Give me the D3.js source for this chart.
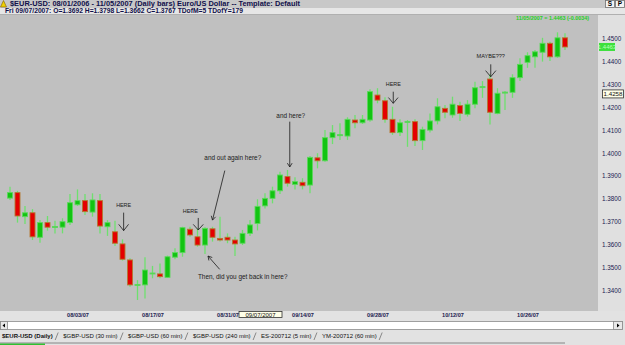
<!DOCTYPE html>
<html lang="en">
<head>
<meta charset="UTF-8" />
<title>$EUR-USD Daily bars</title>
<script src="https://d3js.org/d3.v7.min.js"></script>
<style>
  body { margin: 0; background: #e4e4e4; overflow: hidden; }
  svg { display: block; font-family: "Liberation Sans", Arial, sans-serif; }
  .hdr { font-weight: bold; fill: #10104a; }
  .axis text { fill: #202050; }
</style>
</head>
<body>
<svg id="chart" width="625" height="345"></svg>
<script>
// daily bars, 07/23/07 .. 11/02/07
const opens = [1.3803,1.3827,1.3722,1.3739,1.3632,1.3696,1.3677,1.3676,1.3696,1.3774,
  1.3792,1.3742,1.3792,1.3678,1.3656,1.3603,1.3533,1.3422,1.3424,1.3474,
  1.3472,1.3457,1.3545,1.3565,1.3667,1.3634,1.3598,1.3669,1.3627,1.3632,
  1.3620,1.3606,1.3649,1.3692,1.3769,1.3802,1.3835,1.3897,1.3863,1.3872,
  1.3860,1.3979,1.3966,1.4067,1.4077,1.4074,1.4144,1.4132,1.4144,1.4253,
  1.4228,1.4147,1.4089,1.4136,1.4137,1.4054,1.4100,1.4140,1.4195,1.4166,
  1.4207,1.4169,1.4213,1.4288,1.4323,1.4173,1.4264,1.4265,1.4329,1.4396,
  1.4420,1.4440,1.4479,1.4420,1.4503];
const highs = [1.3853,1.3835,1.3769,1.3755,1.3707,1.3725,1.3704,1.3715,1.3821,1.3841,
  1.3821,1.3824,1.3821,1.3707,1.3704,1.3623,1.3540,1.3445,1.3545,1.3507,
  1.3518,1.3552,1.3584,1.3678,1.3678,1.3671,1.3676,1.3678,1.3722,1.3649,
  1.3634,1.3664,1.3707,1.3798,1.3824,1.3853,1.3918,1.3926,1.3894,1.3890,
  1.3987,1.3999,1.4100,1.4122,1.4130,1.4156,1.4166,1.4166,1.4278,1.4283,
  1.4243,1.4202,1.4147,1.4144,1.4147,1.4115,1.4173,1.4239,1.4210,1.4246,
  1.4224,1.4231,1.4311,1.4314,1.4344,1.4283,1.4271,1.4344,1.4414,1.4440,
  1.4450,1.4503,1.4486,1.4527,1.4523];
const lows = [1.3795,1.3696,1.3690,1.3620,1.3608,1.3661,1.3649,1.3649,1.3686,1.3769,
  1.3729,1.3722,1.3649,1.3638,1.3594,1.3530,1.3416,1.3358,1.3365,1.3453,
  1.3453,1.3455,1.3536,1.3547,1.3634,1.3591,1.3559,1.3613,1.3613,1.3606,
  1.3550,1.3598,1.3638,1.3662,1.3758,1.3780,1.3821,1.3853,1.3841,1.3841,
  1.3824,1.3933,1.3962,1.4039,1.4057,1.4057,1.4108,1.4127,1.4137,1.4217,
  1.4132,1.4079,1.4074,1.4027,1.4031,1.4013,1.4090,1.4125,1.4152,1.4154,
  1.4140,1.4159,1.4195,1.4241,1.4125,1.4169,1.4188,1.4241,1.4314,1.4372,
  1.4372,1.4399,1.4402,1.4416,1.4450];
const closes = [1.3827,1.3725,1.3739,1.3634,1.3696,1.3676,1.3679,1.3700,1.3783,1.3792,
  1.3744,1.3795,1.3681,1.3696,1.3606,1.3536,1.3424,1.3426,1.3489,1.3476,
  1.3460,1.3547,1.3565,1.3674,1.3642,1.3598,1.3671,1.3632,1.3620,1.3620,
  1.3603,1.3649,1.3686,1.3767,1.3802,1.3835,1.3904,1.3868,1.3875,1.3857,
  1.3981,1.3966,1.4067,1.4089,1.4080,1.4147,1.4132,1.4147,1.4268,1.4231,
  1.4147,1.4089,1.4132,1.4138,1.4054,1.4103,1.4140,1.4202,1.4178,1.4213,
  1.4173,1.4213,1.4285,1.4290,1.4178,1.4261,1.4266,1.4329,1.4387,1.4425,
  1.4442,1.4479,1.4420,1.4503,1.4463];

const priceTicks = [1.34,1.35,1.36,1.37,1.38,1.39,1.40,1.41,1.42,1.43,1.44,1.45];
const dateTickIndex = [9,19,29,39,49,59,69];
const dateTickLabels = ["08/03/07","08/17/07","08/31/07","09/14/07","09/28/07","10/12/07","10/26/07"];

const titleText = "$EUR-USD:  08/01/2006 - 11/05/2007  (Daily bars)   Euro/US Dollar  --  Template: Default";
const cursorText = "Fri  09/07/2007:  O=1.3692  H=1.3798  L=1.3662  C=1.3767  TDofM=5  TDofY=179";
const lastText = "11/05/2007 = 1.4463 (-0.0034)";
const lastPrice = 1.4463;
const cursorIndex = 33.4;
const cursorDate = "09/07/2007";
const cursorPrice = 1.4258;

const annText = ["HERE","HERE","and out again here?","Then, did you get back in here?","and here?","HERE","MAYBE???"];
const annIndex = [15.15, 25.1, 27.0, 26.4, 37.3, 51.1, 64.1];
const annPrice = [1.3661, 1.3664, 1.3707, 1.3550, 1.3939, 1.4217, 1.4333];

const tabLabels = ["$EUR-USD (Daily)","$GBP-USD (30 min)","$GBP-USD (60 min)","$GBP-USD (240 min)","ES-200712 (5 min)","YM-200712 (60 min)"];

const svg = d3.select("#chart");
const W = 625, H = 345;
const plot = { left: 0, right: 598, top: 15, bottom: 311 };

const x = d3.scaleLinear().domain([-0.5, 74.5]).range([6.25, 568.75]);
const y = d3.scaleLinear().domain([1.34, 1.45]).range([290.4, 38.5]);

// backgrounds
svg.append("rect").attr("width", W).attr("height", H).attr("fill", "#e2e2e2");
svg.append("rect").attr("x", 0).attr("y", 0).attr("width", W).attr("height", 8).attr("fill", "#c8c8c8");
svg.append("rect").attr("x", 0).attr("y", 8).attr("width", W).attr("height", 7).attr("fill", "#e6e6e6");
svg.append("rect").attr("x", plot.left).attr("y", plot.top)
  .attr("width", plot.right - plot.left).attr("height", plot.bottom - plot.top)
  .attr("fill", "#c0c0c0");
svg.append("line").attr("x1", 0).attr("x2", W).attr("y1", 14.5).attr("y2", 14.5)
  .attr("stroke", "#b0b0b0");

// header
svg.append("path").attr("d", "M0.5,7 L3.5,0.5 L6.5,7 Z").attr("fill", "#f0d000").attr("stroke", "#806000").attr("stroke-width", 0.6);
svg.append("text").attr("class", "hdr").attr("x", 10).attr("y", 6.3)
  .attr("font-size", 6.6).attr("textLength", 290).attr("lengthAdjust", "spacingAndGlyphs")
  .text(titleText);
svg.append("text").attr("class", "hdr").attr("x", 5).attr("y", 13.3)
  .attr("font-size", 6.4).attr("textLength", 238).attr("lengthAdjust", "spacingAndGlyphs")
  .text(cursorText);
["S", "P"].forEach((t, k) => {
  svg.append("rect").attr("x", 605.5 + k * 10).attr("y", 0.5).attr("width", 9).attr("height", 7)
    .attr("fill", "#f4f4f4").attr("stroke", "#707070").attr("stroke-width", 0.8);
  svg.append("text").attr("x", 610 + k * 10).attr("y", 6.3).attr("text-anchor", "middle")
    .attr("font-size", 6.5).attr("font-weight", "bold").attr("fill", "#000").text(t);
});

svg.append("text").attr("x", 589).attr("y", 20).attr("text-anchor", "end")
  .attr("font-size", 5.8).attr("font-weight", "bold").attr("fill", "#22d022")
  .attr("textLength", 73).attr("lengthAdjust", "spacingAndGlyphs")
  .text(lastText);

// candles
const candles = d3.range(opens.length).map(i => ({ i, o: opens[i], h: highs[i], l: lows[i], c: closes[i] }));
const g = svg.append("g");
const bodyW = 5;

g.selectAll(".wick").data(candles).join("line")
  .attr("class", "wick")
  .attr("x1", d => x(d.i)).attr("x2", d => x(d.i))
  .attr("y1", d => y(d.h)).attr("y2", d => y(d.l))
  .attr("stroke", "#6ee06e").attr("stroke-width", 1.3);

g.selectAll(".body").data(candles).join("rect")
  .attr("class", "body")
  .attr("x", d => x(d.i) - bodyW / 2)
  .attr("y", d => y(Math.max(d.o, d.c)))
  .attr("width", bodyW)
  .attr("height", d => Math.max(1, Math.abs(y(d.o) - y(d.c))))
  .attr("fill", d => d.c >= d.o ? "#12c412" : "#e40000")
  .attr("stroke", d => d.c >= d.o ? "#5cd85c" : "#b47830")
  .attr("stroke-width", 0.9);

// right price axis
svg.append("rect").attr("x", plot.right).attr("y", plot.top).attr("width", W - plot.right)
  .attr("height", plot.bottom - plot.top).attr("fill", "#e0e0e0");
const yAxis = svg.append("g").attr("class", "axis")
  .attr("transform", `translate(${plot.right},0)`)
  .call(d3.axisRight(y).tickValues(priceTicks).tickFormat(d3.format(".4f")).tickSize(0).tickPadding(4));
yAxis.select(".domain").remove();
yAxis.selectAll("text").attr("font-size", 6.3).attr("font-family", "Liberation Sans, Arial, sans-serif");

// last price marker
svg.append("rect").attr("x", 599).attr("y", y(lastPrice) - 4).attr("width", 16).attr("height", 8)
  .attr("fill", "#3ce03c");
svg.append("text").attr("x", 607).attr("y", y(lastPrice) + 2.2).attr("text-anchor", "middle")
  .attr("font-size", 6).attr("fill", "#b8ffb8").text(d3.format(".4f")(lastPrice));

// cursor price box
svg.append("rect").attr("x", 602.5).attr("y", y(cursorPrice) - 4).attr("width", 21).attr("height", 8)
  .attr("fill", "#ffffe8").attr("stroke", "#303030").attr("stroke-width", 0.8);
svg.append("text").attr("x", 613).attr("y", y(cursorPrice) + 2.3).attr("text-anchor", "middle")
  .attr("font-size", 6.2).attr("fill", "#101010").text(d3.format(".4f")(cursorPrice));

// bottom date axis
const xAxis = svg.append("g").attr("class", "axis")
  .attr("transform", `translate(0,${plot.bottom})`)
  .call(d3.axisBottom(x).tickValues(dateTickIndex)
    .tickFormat((d, k) => dateTickLabels[k]).tickSize(0).tickPadding(2));
xAxis.select(".domain").remove();
xAxis.selectAll("text").attr("font-size", 5.6).attr("font-weight", "bold")
  .attr("font-family", "Liberation Sans, Arial, sans-serif");

// cursor date box
const cx = x(cursorIndex);
svg.append("rect").attr("x", cx - 21.5).attr("y", 311.5).attr("width", 43).attr("height", 6)
  .attr("fill", "#ffffe8").attr("stroke", "#303030").attr("stroke-width", 0.8);
svg.append("text").attr("x", cx).attr("y", 316.6).attr("text-anchor", "middle")
  .attr("font-size", 6).attr("fill", "#101010").text(cursorDate);

// annotations
const annLayout = [
  { tx: 0, ty: -23.5, sx: 0, sy: -18, wing: 8, ang: 38, fs: 5.4 },
  { tx: -8, ty: -17, sx: 0, sy: -12, wing: 7.5, ang: 42, fs: 5.4 },
  { tx: 20.3, ty: -60, sx: 12.3, sy: -49.5, wing: 4.5, ang: 30, fs: 6.4 },
  { tx: 34.7, ty: 23, sx: 11.7, sy: 13.3, wing: 4.5, ang: 30, fs: 6.4 },
  { tx: 1, ty: -49, sx: 0, sy: -45.3, wing: 4.5, ang: 32, fs: 6.4 },
  { tx: 0, ty: -17.5, sx: 0, sy: -11.6, wing: 7.5, ang: 40, fs: 5.4 },
  { tx: 0, ty: -19, sx: 0, sy: -12.4, wing: 8, ang: 40, fs: 5.6 }
];
const ann = svg.append("g");
annText.forEach((t, k) => {
  const L = annLayout[k];
  const px = x(annIndex[k]), py = y(annPrice[k]);
  const sx = px + L.sx, sy = py + L.sy;
  ann.append("line").attr("x1", sx).attr("y1", sy).attr("x2", px).attr("y2", py)
    .attr("stroke", "#1a1a1a").attr("stroke-width", 0.8);
  const a = Math.atan2(sy - py, sx - px);
  [-1, 1].forEach(s => {
    const r = a + s * L.ang * Math.PI / 180;
    ann.append("line").attr("x1", px).attr("y1", py)
      .attr("x2", px + L.wing * Math.cos(r)).attr("y2", py + L.wing * Math.sin(r))
      .attr("stroke", "#1a1a1a").attr("stroke-width", 0.8);
  });
  ann.append("text").attr("x", px + L.tx).attr("y", py + L.ty).attr("text-anchor", "middle")
    .attr("font-size", L.fs).attr("fill", "#1a1a1a").text(t);
});

// scrollbar
svg.append("rect").attr("x", 0.5).attr("y", 321.5).attr("width", 622).attr("height", 8)
  .attr("fill", "#ffffff").attr("stroke", "#8a8a8a").attr("stroke-width", 0.8);
[[0.5, "M5,323.5 L2.5,325.5 L5,327.5 Z"], [613.5, "M617,323.5 L619.5,325.5 L617,327.5 Z"]].forEach(([bx, p]) => {
  svg.append("rect").attr("x", bx).attr("y", 321.5).attr("width", bx < 1 ? 7 : 9).attr("height", 8)
    .attr("fill", "#e8e8e8").attr("stroke", "#8a8a8a").attr("stroke-width", 0.8);
  svg.append("path").attr("d", p).attr("fill", "#000");
});

// tabs
const tabs = svg.append("g");
let tx = 2;
tabLabels.forEach((t, k) => {
  const txt = tabs.append("text").attr("x", tx).attr("y", 338.3)
    .attr("font-size", 6).attr("fill", "#101010")
    .attr("font-weight", k === 0 ? "bold" : "normal").text(t);
  const w = txt.node().getComputedTextLength();
  const s = tx + w + 2.5;
  tabs.append("line").attr("x1", s).attr("y1", 340).attr("x2", s + 3).attr("y2", 332.5)
    .attr("stroke", "#606060").attr("stroke-width", 0.7);
  tx = s + 8;
});
svg.append("line").attr("x1", 0).attr("x2", 565).attr("y1", 343).attr("y2", 343)
  .attr("stroke", "#707070").attr("stroke-width", 0.8);
svg.append("rect").attr("x", 0).attr("y", 343.5).attr("width", 45).attr("height", 1.5).attr("fill", "#30c030");
</script>
</body>
</html>
